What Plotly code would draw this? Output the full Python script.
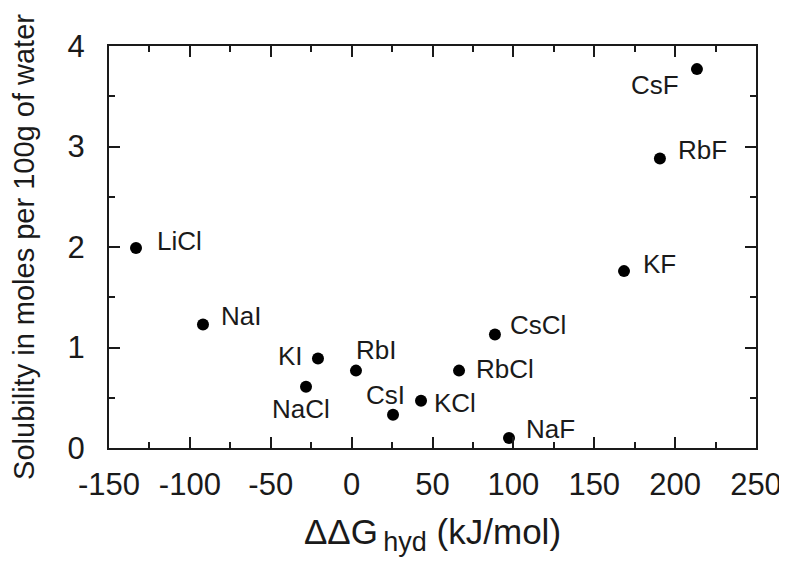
import plotly.graph_objects as go

salts = ["CsF", "RbF", "LiCl", "KF", "NaI", "CsCl", "KI", "RbI", "RbCl", "NaCl", "KCl", "CsI", "NaF"]
ddg_hyd = [213.5, 190.6, -133.3, 168.4, -91.9, 88.6, -20.8, 2.7, 66.4, -28.2, 42.9, 25.6, 97.3]
solubility = [3.77, 2.88, 1.99, 1.76, 1.23, 1.13, 0.89, 0.77, 0.77, 0.61, 0.47, 0.33, 0.10]

x_tickvals = [-150, -100, -50, 0, 50, 100, 150, 200, 250]
x_ticktext = ["-150", "-100", "-50", "0", "50", "100", "150", "200", "250"]
y_tickvals = [0, 1, 2, 3, 4]
y_ticktext = ["0", "1", "2", "3", "4"]

# label offsets in pixels (dx right, dy down)
label_dx = [-42, 43, 43, 35, 38, 43, -27, 20, 46, -5, 34, -8, 41]
label_dy = [16, -9, -7, -7, -8, -9, -3, -21, -2, 22, 2, -20, -9]

FONT = "Liberation Sans, Arial, Helvetica, sans-serif"
INK = "#1a1a1a"

fig = go.Figure()
fig.add_trace(go.Scatter(
    x=ddg_hyd, y=solubility, mode="markers",
    marker=dict(color="black", size=12),
    hoverinfo="text", text=salts, showlegend=False,
))

for s, x, y, dx, dy in zip(salts, ddg_hyd, solubility, label_dx, label_dy):
    fig.add_annotation(x=x, y=y, xref="x", yref="y", text=s, showarrow=False,
                       xshift=dx, yshift=-dy,
                       font=dict(family=FONT, size=26, color=INK))

axis_common = dict(
    showgrid=False, zeroline=False, showline=True, linecolor=INK, linewidth=2,
    mirror="ticks", ticks="inside", ticklen=11, tickwidth=1.5, tickcolor=INK,
    tickfont=dict(family=FONT, size=31, color=INK), automargin=False,
)

fig.update_xaxes(
    range=[-150, 250], tickmode="array", tickvals=x_tickvals, ticktext=x_ticktext,
    minor=dict(dtick=25, tick0=0, ticks="inside", ticklen=6, tickwidth=1.5, tickcolor=INK),
    title=dict(text="ΔΔG<sub><span style='font-size:27px'>\u2009hyd</span></sub> (kJ/mol)",
               font=dict(family=FONT, size=35, color=INK), standoff=18),
    ticklabelstandoff=8,
    **axis_common,
)
fig.update_yaxes(
    range=[0, 4], tickmode="array", tickvals=y_tickvals, ticktext=y_ticktext,
    minor=dict(dtick=0.5, tick0=0, ticks="inside", ticklen=6, tickwidth=1.5, tickcolor=INK),
    title=dict(text="Solubility in moles per 100g of water",
               font=dict(family=FONT, size=29, color=INK), standoff=27),
    ticklabelstandoff=16,
    **axis_common,
)

# the page body adds an 8px offset, so the figure is sized to fit the window
fig.update_layout(
    width=779, height=557,
    margin=dict(l=101, r=31, t=38, b=117),
    plot_bgcolor="white", paper_bgcolor="white",
)

fig.write_html("out.html")
